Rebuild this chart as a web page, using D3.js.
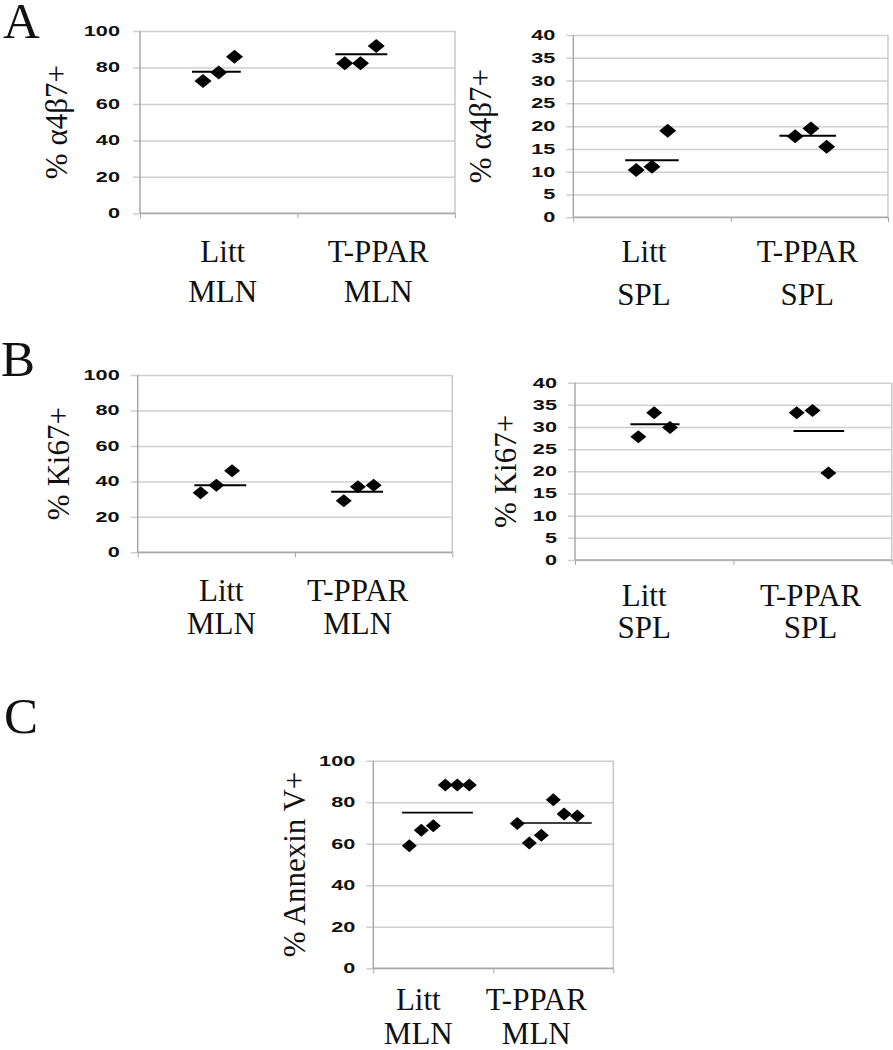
<!DOCTYPE html>
<html>
<head>
<meta charset="utf-8">
<script src="https://cdn.jsdelivr.net/npm/d3@7"></script>
<style>
body { margin: 0; background: #fff; }
svg { display: block; }
.serif { font-family: "Liberation Serif", "Times New Roman", serif; fill: #111; }
.ytick text { font-family: "Liberation Sans", Arial, sans-serif; font-weight: bold; font-size: 14px; fill: #111; }
.ytick line { stroke: #cfcfcf; stroke-width: 1.5; }
.xtick line { stroke: #a8a8a8; stroke-width: 1; }
</style>
</head>
<body>
<div id="chart"></div>
<script>
// groups and x-axis label lines
const groups = ['Litt', 'T-PPAR'];
const tissueMLN = 'MLN';
const tissueSPL = 'SPL';

// A, MLN: % a4b7+
const aMlnLitt = [72.6, 77.3, 85.9];
const aMlnTppar = [82.3, 82.3, 91.8];
const aMlnMeans = [77.7, 87.2];
const aMlnLittX = [0.9, 1.0, 1.1];
const aMlnTpparX = [1.8, 1.9, 2.0];
const aMlnMeanX = [[0.83, 1.14], [1.74, 2.07]];

// A, SPL: % a4b7+
const aSplLitt = [10.4, 11.1, 19.0];
const aSplTppar = [17.8, 19.5, 15.5];
const aSplMeans = [12.5, 17.9];
const aSplLittX = [0.9, 1.0, 1.1];
const aSplTpparX = [1.91, 2.01, 2.11];
const aSplMeanX = [[0.83, 1.17], [1.81, 2.17]];

// B, MLN: % Ki67+
const bMlnLitt = [33.6, 37.8, 46.0];
const bMlnTppar = [29.1, 37.0, 37.8];
const bMlnMeans = [37.8, 34.2];
const bMlnLittX = [0.9, 1.0, 1.1];
const bMlnTpparX = [1.81, 1.9, 2.0];
const bMlnMeanX = [[0.86, 1.19], [1.73, 2.06]];

// B, SPL: % Ki67+
const bSplLitt = [27.8, 33.2, 29.9];
const bSplTppar = [33.2, 33.7, 19.6];
const bSplMeans = [30.6, 29.1];
const bSplLittX = [0.9, 1.0, 1.1];
const bSplTpparX = [1.9, 2.0, 2.1];
const bSplMeanX = [[0.85, 1.16], [1.88, 2.2]];

// C, MLN: % Annexin V+
const cMlnLitt = [59.0, 66.5, 68.7, 88.3, 88.3, 88.3];
const cMlnTppar = [69.8, 60.3, 64.1, 81.2, 74.3, 73.4];
const cMlnMeans = [75.0, 70.0];
const cMlnLittX = [0.8, 0.9, 1.0, 1.1, 1.2, 1.3];
const cMlnTpparX = [1.7, 1.8, 1.9, 2.0, 2.09, 2.2];
const cMlnMeanX = [[0.74, 1.33], [1.74, 2.32]];

const ticks100 = [0, 20, 40, 60, 80, 100];
const ticks40 = [0, 5, 10, 15, 20, 25, 30, 35, 40];

const panels = [
  {left: 140, top: 31, w: 315, h: 182.3, yMax: 100, yTicks: ticks100, title: '% α4β7+', titleX: 67, labelGap: 20,
   litt: aMlnLitt, tppar: aMlnTppar, means: aMlnMeans, littX: aMlnLittX, tpparX: aMlnTpparX, meanX: aMlnMeanX,
   tissue: tissueMLN, labDx: [4, 2], lab1: 262, lab2: 302, dw: 8.5, dh: 7, mw: 2},
  {left: 573.3, top: 35, w: 314.7, h: 182.3, yMax: 40, yTicks: ticks40, title: '% α4β7+', titleX: 491, labelGap: 18,
   litt: aSplLitt, tppar: aSplTppar, means: aSplMeans, littX: aSplLittX, tpparX: aSplTpparX, meanX: aSplMeanX,
   tissue: tissueSPL, labDx: [-8, -2], lab1: 262, lab2: 305, dw: 8.5, dh: 7, mw: 2},
  {left: 137.7, top: 375, w: 314.6, h: 177.3, yMax: 100, yTicks: ticks100, title: '% Ki67+', titleX: 69, labelGap: 18,
   litt: bMlnLitt, tppar: bMlnTppar, means: bMlnMeans, littX: bMlnLittX, tpparX: bMlnTpparX, meanX: bMlnMeanX,
   tissue: tissueMLN, labDx: [5, -16], lab1: 601, lab2: 634, dw: 8, dh: 6.5, mw: 2},
  {left: 575, top: 382.7, w: 316.7, h: 177.3, yMax: 40, yTicks: ticks40, title: '% Ki67+', titleX: 516, labelGap: 18,
   litt: bSplLitt, tppar: bSplTppar, means: bSplMeans, littX: bSplLittX, tpparX: bSplTpparX, meanX: bSplMeanX,
   tissue: tissueSPL, labDx: [-10, -2], lab1: 606, lab2: 638, dw: 8, dh: 6.5, mw: 2},
  {left: 373.3, top: 760.7, w: 240, h: 207.6, yMax: 100, yTicks: ticks100, title: '% Annexin V+', titleX: 305, labelGap: 18,
   litt: cMlnLitt, tppar: cMlnTppar, means: cMlnMeans, littX: cMlnLittX, tpparX: cMlnTpparX, meanX: cMlnMeanX,
   tissue: tissueMLN, labDx: [-15, -17], lab1: 1010, lab2: 1044, dw: 7.5, dh: 6.5, mw: 1.6}
];

const letters = [{t: 'A', x: 3, y: 38}, {t: 'B', x: 1, y: 376}, {t: 'C', x: 4, y: 733}];

const svg = d3.select('#chart').append('svg')
  .attr('width', 893)
  .attr('height', 1050);

letters.forEach(function(l) {
  svg.append('text').attr('class', 'serif')
    .attr('x', l.x).attr('y', l.y)
    .style('font-size', '51px')
    .text(l.t);
});

function diamond(w, h) {
  return 'M0,' + (-h) + 'L' + w + ',0L0,' + h + 'L' + (-w) + ',0Z';
}

panels.forEach(function(p) {
  let g = svg.append('g').attr('transform', 'translate(' + p.left + ',' + p.top + ')');

  let xScale = d3.scaleLinear().domain([0.5, 2.5]).range([0, p.w]);
  let yScale = d3.scaleLinear().domain([0, p.yMax]).range([p.h, 0]);

  // gridlines + tick labels
  let yAx = g.append('g').attr('class', 'ytick')
    .call(d3.axisLeft(yScale).tickValues(p.yTicks).tickSizeInner(-p.w).tickSizeOuter(0));
  yAx.select('.domain').remove();
  yAx.selectAll('.tick line').attr('x1', -7);
  yAx.selectAll('.tick text')
    .attr('x', 0)
    .attr('transform', 'translate(' + (-p.labelGap) + ',0) scale(1.55,1)');

  // plot frame
  g.append('line').attr('x1', p.w).attr('x2', p.w).attr('y1', 0).attr('y2', p.h)
    .attr('stroke', '#c8c8c8').attr('stroke-width', 1.5);
  g.append('line').attr('x1', 0).attr('x2', 0).attr('y1', 0).attr('y2', p.h)
    .attr('stroke', '#a8a8a8').attr('stroke-width', 1.5);

  let xAx = g.append('g').attr('class', 'xtick')
    .attr('transform', 'translate(0,' + p.h + ')')
    .call(d3.axisBottom(xScale).tickValues([0.5, 1.5, 2.5]).tickSize(5).tickFormat(''));
  xAx.select('.domain').remove();
  g.append('line').attr('x1', 0).attr('x2', p.w).attr('y1', p.h).attr('y2', p.h)
    .attr('stroke', '#a8a8a8').attr('stroke-width', 1.5);

  // mean lines
  g.selectAll('.mean')
    .data(p.means)
    .enter().append('line')
    .attr('class', 'mean')
    .attr('x1', function(d, i) { return xScale(p.meanX[i][0]); })
    .attr('x2', function(d, i) { return xScale(p.meanX[i][1]); })
    .attr('y1', function(d) { return yScale(d); })
    .attr('y2', function(d) { return yScale(d); })
    .attr('stroke', '#000')
    .attr('stroke-width', p.mw);

  // points
  let pts = p.litt.map(function(v, i) { return {x: p.littX[i], y: v}; })
    .concat(p.tppar.map(function(v, i) { return {x: p.tpparX[i], y: v}; }));
  g.selectAll('.dot')
    .data(pts)
    .enter().append('path')
    .attr('class', 'dot')
    .attr('d', diamond(p.dw, p.dh))
    .attr('transform', function(d) { return 'translate(' + xScale(d.x) + ',' + yScale(d.y) + ')'; })
    .attr('fill', '#000');

  // y title
  svg.append('text').attr('class', 'serif')
    .attr('transform', 'translate(' + p.titleX + ',' + (p.top + p.h / 2) + ') rotate(-90)')
    .attr('text-anchor', 'middle')
    .style('font-size', '31px')
    .text(p.title);

  // category labels
  groups.forEach(function(name, i) {
    let cx = p.left + xScale(i + 1) + p.labDx[i];
    svg.append('text').attr('class', 'serif')
      .attr('x', cx).attr('y', p.lab1)
      .attr('text-anchor', 'middle')
      .style('font-size', '31px')
      .text(name);
    svg.append('text').attr('class', 'serif')
      .attr('x', cx).attr('y', p.lab2)
      .attr('text-anchor', 'middle')
      .style('font-size', '31px')
      .text(p.tissue);
  });
});
</script>
</body>
</html>
